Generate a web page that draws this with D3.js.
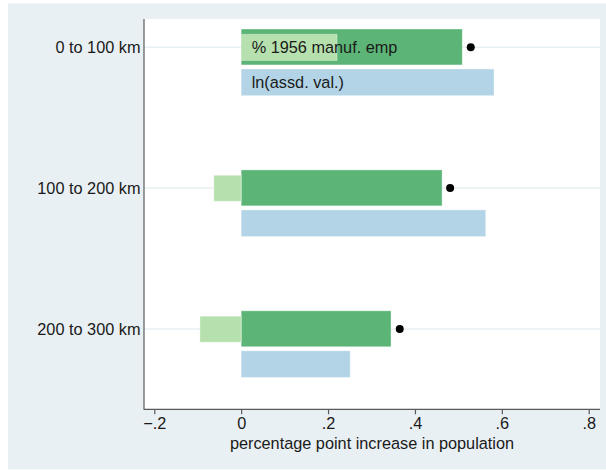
<!DOCTYPE html>
<html>
<head>
<meta charset="utf-8">
<script src="https://cdn.jsdelivr.net/npm/d3@7/dist/d3.min.js"></script>
<style>
  html, body { margin: 0; padding: 0; background: #ffffff; }
  svg { display: block; }
  text { font-family: "Liberation Sans", Arial, Helvetica, sans-serif; fill: #1a1a1a; }
</style>
</head>
<body>
<svg id="chart" width="606" height="471"></svg>
<script>
// ---- data ----
const categories = ["0 to 100 km", "100 to 200 km", "200 to 300 km"];
const manufTotal = [0.509, 0.4625, 0.345];     // dark green bars
const manufPartial = [0.2206, -0.063, -0.095]; // light green bars
const assdVal = [0.582, 0.563, 0.251];         // blue bars
const dotValues = [0.5285, 0.481, 0.365];      // black dots
const xTicks = [-0.2, 0, 0.2, 0.4, 0.6, 0.8];
const xTickLabels = ["\u2212.2", "0", ".2", ".4", ".6", ".8"];
const barLabels = ["% 1956 manuf. emp", "ln(assd. val.)"];
const xTitle = "percentage point increase in population";

// ---- layout ----
const svg = d3.select("#chart");
const plot = { left: 144, right: 600, top: 19, bottom: 409.3 };
const fs = 16.3;

const x = d3.scaleLinear().domain([-0.2237, 0.826]).range([plot.left, plot.right]);
const y = d3.scaleLinear().domain([-0.2, 2.57]).range([plot.top, plot.bottom]);

const cDark = "#5cb576", cLight = "#b6e1ae", cBlue = "#b2d4e6";

// outer background
svg.append("rect").attr("x", 8).attr("y", 3.3).attr("width", 598).attr("height", 466)
  .attr("fill", "#e9f0f3");
// plot region
svg.append("rect").attr("x", plot.left).attr("y", plot.top)
  .attr("width", plot.right - plot.left).attr("height", plot.bottom - plot.top)
  .attr("fill", "#ffffff");

// gridlines at categories
svg.append("g").selectAll("line").data(categories).join("line")
  .attr("x1", plot.left).attr("x2", plot.right)
  .attr("y1", (d, i) => y(i)).attr("y2", (d, i) => y(i))
  .attr("stroke", "#e8f0f3").attr("stroke-width", 1.5);

function barRect(g, vals, off0, off1, color) {
  g.selectAll(null).data(vals).join("rect")
    .attr("x", d => x(Math.min(0, d)))
    .attr("width", d => Math.abs(x(d) - x(0)))
    .attr("y", (d, i) => y(i + off0))
    .attr("height", (d, i) => y(i + off1) - y(i + off0))
    .attr("fill", color)
    .attr("stroke", "#ffffff").attr("stroke-opacity", 0.35).attr("stroke-width", 1);
}

const bars = svg.append("g");
barRect(bars, manufTotal, -0.129, 0.126, cDark);
barRect(bars, manufPartial, -0.091, 0.094, cLight);
barRect(bars, assdVal, 0.155, 0.344, cBlue);

// dots
svg.append("g").selectAll("circle").data(dotValues).join("circle")
  .attr("cx", d => x(d)).attr("cy", (d, i) => y(i))
  .attr("r", 4).attr("fill", "#000");

// bar labels (first category)
svg.append("text").attr("x", x(0) + 10.5).attr("y", y(0)).attr("dy", "0.35em")
  .attr("font-size", fs).text(barLabels[0]);
svg.append("text").attr("x", x(0) + 10.5).attr("y", y(0.25)).attr("dy", "0.35em")
  .attr("font-size", fs).text(barLabels[1]);

// y axis
const yAxis = svg.append("g");
yAxis.append("line").attr("x1", plot.left).attr("x2", plot.left)
  .attr("y1", plot.top).attr("y2", plot.bottom + 0.5)
  .attr("stroke", "#5a5a5a").attr("stroke-width", 1.2);
yAxis.selectAll("text").data(categories).join("text")
  .attr("x", plot.left - 3.5).attr("y", (d, i) => y(i)).attr("dy", "0.35em")
  .attr("text-anchor", "end").attr("font-size", fs).text(d => d);

// x axis
const xAxisG = svg.append("g").attr("transform", `translate(0,${plot.bottom})`);
xAxisG.call(d3.axisBottom(x).tickValues(xTicks).tickSize(5).tickPadding(3)
  .tickFormat((d, i) => xTickLabels[i]));
xAxisG.select(".domain").attr("d", `M${plot.left},0H${plot.right}`)
  .attr("stroke", "#5a5a5a").attr("stroke-width", 1.2);
xAxisG.selectAll(".tick line").attr("stroke", "#5a5a5a").attr("stroke-width", 1.2);
xAxisG.selectAll(".tick text").attr("font-size", fs)
  .attr("font-family", "Liberation Sans, Arial, sans-serif").attr("fill", "#1a1a1a");

svg.append("text").attr("x", (plot.left + plot.right) / 2).attr("y", 449)
  .attr("text-anchor", "middle").attr("font-size", fs).text(xTitle);
</script>
</body>
</html>
